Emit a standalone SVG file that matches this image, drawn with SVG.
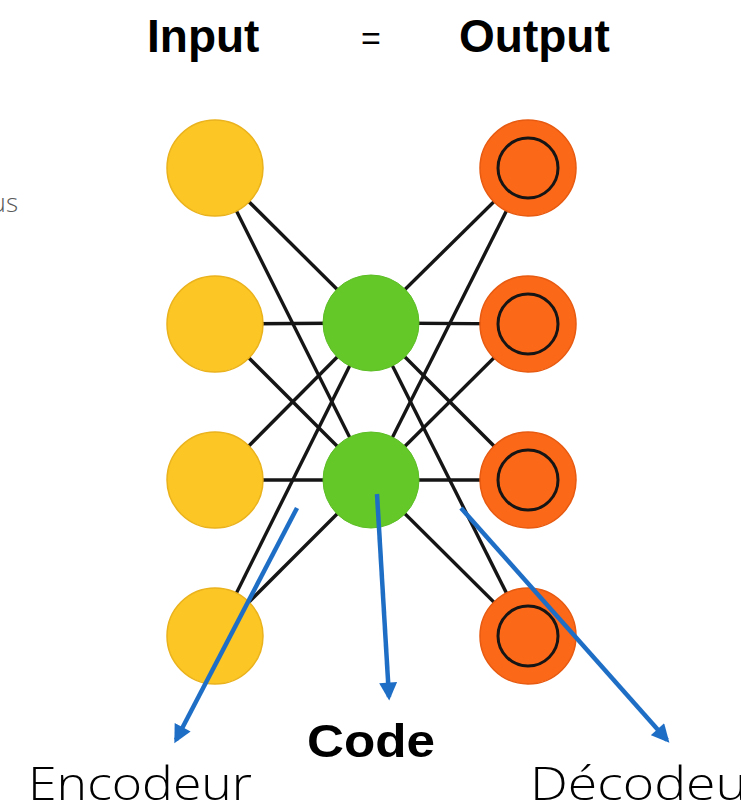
<svg xmlns="http://www.w3.org/2000/svg" width="741" height="804" viewBox="0 0 741 804">
<defs>
<style>
.t{font-family:"Liberation Sans",Arial,sans-serif;fill:#000}
.b{font-weight:bold}
.light{font-family:"Open Sans","Liberation Sans",sans-serif;font-weight:300;fill:#000}
.edge{stroke:#151515;stroke-width:3.4;fill:none}
.in{fill:#fcc624;stroke:#eab21c;stroke-width:1.5}
.hid{fill:#63c828;stroke:#5cbd25;stroke-width:1}
.out{fill:#fb6818;stroke:#e75a10;stroke-width:1.5}
.ring{fill:none;stroke:#151515;stroke-width:3}
.arr{stroke:#1f6ec6;stroke-width:4.5;fill:none;marker-end:url(#ah)}
</style>
<marker id="ah" viewBox="0 0 10 10" refX="8" refY="5" markerWidth="4.2" markerHeight="4" markerUnits="strokeWidth" orient="auto">
<path d="M0,0 L10,5 L0,10 z" fill="#1f6ec6"/>
</marker>
</defs>
<rect width="741" height="804" fill="#ffffff"/>
<text class="t b" x="147" y="52" font-size="46">Input</text>
<text class="t" x="371" y="50" font-size="34" text-anchor="middle">=</text>
<text class="t b" x="459" y="52" font-size="46">Output</text>
<text x="18" y="212" font-family="Open Sans, Liberation Sans, sans-serif" font-weight="300" font-size="26" fill="#595959" text-anchor="end">us</text>
<g id="connectors">
<line class="edge" x1="215" y1="168" x2="371" y2="323"/>
<line class="edge" x1="215" y1="168" x2="371" y2="480"/>
<line class="edge" x1="215" y1="324" x2="371" y2="323"/>
<line class="edge" x1="215" y1="324" x2="371" y2="480"/>
<line class="edge" x1="215" y1="480" x2="371" y2="323"/>
<line class="edge" x1="215" y1="480" x2="371" y2="480"/>
<line class="edge" x1="215" y1="636" x2="371" y2="323"/>
<line class="edge" x1="215" y1="636" x2="371" y2="480"/>
<line class="edge" x1="371" y1="323" x2="528" y2="168"/>
<line class="edge" x1="371" y1="323" x2="528" y2="324"/>
<line class="edge" x1="371" y1="323" x2="528" y2="480"/>
<line class="edge" x1="371" y1="323" x2="528" y2="636"/>
<line class="edge" x1="371" y1="480" x2="528" y2="168"/>
<line class="edge" x1="371" y1="480" x2="528" y2="324"/>
<line class="edge" x1="371" y1="480" x2="528" y2="480"/>
<line class="edge" x1="371" y1="480" x2="528" y2="636"/>
</g>
<g id="in1"><circle class="in" cx="215" cy="168" r="48"/></g>
<g id="in2"><circle class="in" cx="215" cy="324" r="48"/></g>
<g id="in3"><circle class="in" cx="215" cy="480" r="48"/></g>
<g id="in4"><circle class="in" cx="215" cy="636" r="48"/></g>
<g id="code1"><circle class="hid" cx="371" cy="323" r="48"/></g>
<g id="code2"><circle class="hid" cx="371" cy="480" r="48"/></g>
<g id="out1"><circle class="out" cx="528" cy="168" r="48"/><circle class="ring" cx="528" cy="168" r="30"/></g>
<g id="out2"><circle class="out" cx="528" cy="324" r="48"/><circle class="ring" cx="528" cy="324" r="30"/></g>
<g id="out3"><circle class="out" cx="528" cy="480" r="48"/><circle class="ring" cx="528" cy="480" r="30"/></g>
<g id="out4"><circle class="out" cx="528" cy="636" r="48"/><circle class="ring" cx="528" cy="636" r="30"/></g>
<g id="arrows">
<line class="arr" x1="297" y1="508" x2="176" y2="740"/>
<line class="arr" x1="377" y1="494" x2="389" y2="697"/>
<line class="arr" x1="461" y1="508" x2="667" y2="740"/>
</g>
<g id="labels">
<text class="t b" x="307" y="757" font-size="46" textLength="128" lengthAdjust="spacingAndGlyphs">Code</text>
<text class="light" x="28" y="800" font-size="46" textLength="224" lengthAdjust="spacingAndGlyphs">Encodeur</text>
<text class="light" x="530" y="800" font-size="46" textLength="238" lengthAdjust="spacingAndGlyphs">Décodeur</text>
</g>
</svg>
